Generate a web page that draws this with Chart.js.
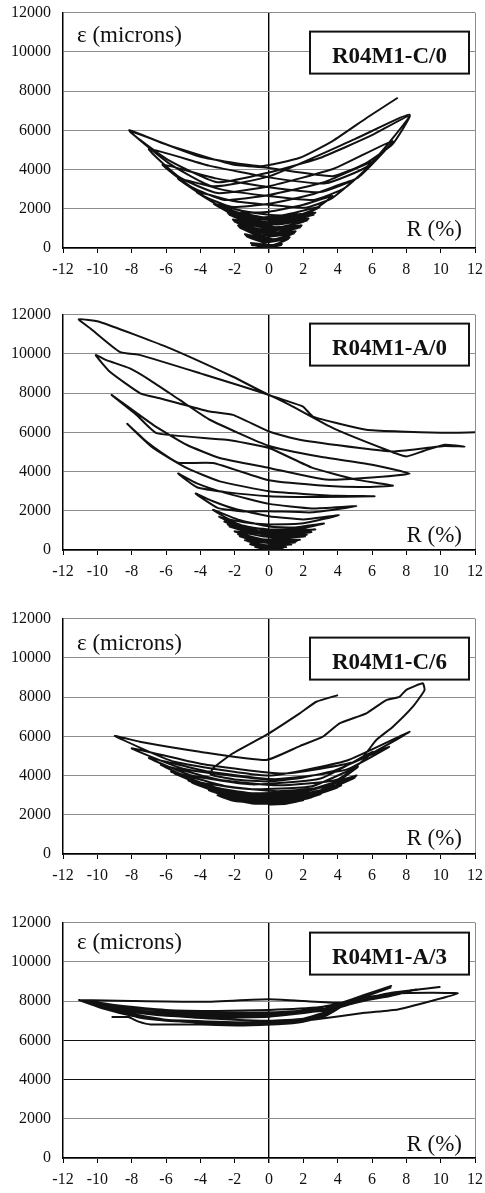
<!DOCTYPE html>
<html>
<head>
<meta charset="utf-8">
<script src="https://cdn.jsdelivr.net/npm/chart.js@4.4.1/dist/chart.umd.min.js"></script>
<style>
  html, body { margin: 0; padding: 0; background: #fff; overflow: hidden; }
  body { position: relative; width: 485px; height: 1193px; }
  .panel { position: absolute; left: 0; width: 490px; height: 289px; }
</style>
</head>
<body>
<div class="panel" style="top:-9px"><canvas id="chartC0" width="490" height="289"></canvas></div>
<div class="panel" style="top:293px"><canvas id="chartA0" width="490" height="289"></canvas></div>
<div class="panel" style="top:597px"><canvas id="chartC6" width="490" height="289"></canvas></div>
<div class="panel" style="top:901px"><canvas id="chartA3" width="490" height="289"></canvas></div>
<script>
// axis ranges (drift ratio R in %, strain in microns)
const rMin = -12, rMax = 12, rStep = 2;
const strainMin = 0, strainMax = 12000, strainStep = 2000;

const panelTitles = ['R04M1-C/0', 'R04M1-A/0', 'R04M1-C/6', 'R04M1-A/3'];

// traces: [R (%), strain (microns)] in load order
const traceC0 = [
  [0,0],[0.7,150],[-0.2,50],[-1.0,150],[0.1,80],[0.75,200],[-0.2,100],[-1.05,250],
  [0.2,150],[1.1,450],[-0.3,280],[-1.3,600],[0.2,350],[1.15,500],[-0.3,350],[-1.35,650],[0.1,400],[1.2,550],[-0.2,420],[-1.4,700],
  [0.3,450],[1.45,750],[-0.4,550],[-1.7,1050],[0.3,650],[1.5,800],[-0.4,650],[-1.75,1100],[0.2,700],[1.55,850],[-0.3,750],[-1.8,1150],
  [0.4,800],[1.8,1050],[-0.5,850],[-2.0,1350],[0.4,950],[1.85,1100],[-0.5,950],[-2.05,1400],[0.3,1000],[1.9,1150],[-0.4,1050],[-2.1,1450],
  [0.5,1050],[2.2,1400],[-0.6,1150],[-2.3,1700],[0.5,1200],[2.25,1450],[-0.6,1250],[-2.35,1750],[0.4,1250],[2.3,1500],[-0.5,1300],[-2.4,1800],
  [0.6,1350],[2.6,1700],[-0.7,1450],[-2.6,1950],[0.5,1450],[2.7,1800],[-0.6,1550],[-2.7,2000],
  [-1.3,1600],[0,1450],[1.3,1500],[2.2,1750],[2.95,2100],
  [1.5,1800],[0,1550],[-1.3,1550],[-2.3,1800],[-3.2,2250],
  [-1.6,1900],[0,1700],[1.6,1650],[2.7,2000],[3.7,2650],
  [2.0,2200],[0,1850],[-1.7,1800],[-3.0,2200],[-4.2,2850],
  [-2.1,2400],[0,2200],[2.1,2050],[3.6,2500],[4.9,3450],
  [2.6,2750],[0,2250],[-2.2,2100],[-3.8,2650],[-5.3,3550],
  [-2.6,2950],[0,2650],[2.6,2450],[4.4,3050],[6.05,4400],
  [3.2,3350],[0,2700],[-2.6,2450],[-4.5,3100],[-6.2,4250],
  [-3.1,3550],[0,3100],[3.0,2850],[5.2,3600],[7.2,5450],
  [3.8,4050],[0,3150],[-3.0,2800],[-5.2,3600],[-7.0,5050],
  [-3.5,4200],[0,3600],[3.3,3300],[5.8,4200],[8.2,6800],
  [5.0,5550],[0,3650],[-3.3,3150],[-5.8,4300],[-8.15,6000],
  [-6.0,5280],[-2.1,4250],[0,4080],[3.7,3660],[5.6,4300],[7.2,5300],[8.2,6750],
  [6.0,5750],[3.0,4600],[0,3850],[-3.0,3350],[-5.8,4450],[-8.1,5950],
  [-4.0,4650],[-0.5,4170],[1.8,4600],[3.7,5450],[5.7,6640],[7.5,7660]
];

const traceA0 = [
  [0,0],[0.8,80],[-0.2,40],[-0.8,150],[0.2,80],[1.0,150],[-0.2,120],[-1.1,300],
  [0.2,180],[1.3,280],[-0.3,250],[-1.4,500],[0.3,320],[1.5,380],[-0.3,380],[-1.7,700],
  [0.2,420],[1.6,450],[-0.3,450],[-1.8,800],
  [0.3,450],[1.8,520],[-0.4,550],[-2.0,950],[0.4,600],[2.1,700],[-0.4,700],[-2.3,1200],
  [0.3,700],[2.2,780],[-0.4,800],[-2.4,1300],
  [0.5,750],[2.47,914],[-0.5,850],[-2.6,1450],[0.5,900],[2.7,1050],[-0.5,950],[-2.9,1700],
  [-1.8,1250],[0,1050],[1.8,1080],[3.2,1350],
  [1.5,1150],[0,1200],[-1.8,1550],[-3.26,2050],
  [-2.3,1560],[-1.0,1360],[0,1305],[2.0,1360],[4.07,1777],
  [2.0,1560],[0,1726],[-2.0,2100],[-3.3,2500],[-4.27,2878],
  [-3.0,2150],[-1.5,1960],[0,1980],[2.5,1920],[5.09,2234],
  [2.5,2120],[0,2352],[-2.5,2900],[-4.2,3400],[-5.3,3900],
  [-4.2,3200],[-2.5,2950],[0,2742],[3.0,2700],[6.15,2741],
  [4.0,2760],[2.0,2860],[0,2996],[-2.87,3500],[-4.8,4183],[-6.75,5198],[-8.26,6432],
  [-7.14,5533],[-5.78,4690],[-5.2,4437],[-3.26,4437],[0,3554],[3.5,3260],[5.5,3210],[7.22,3284],
  [5.0,3600],[2.5,4200],[0,5198],[-2.48,5619],[-6.55,5958],[-7.72,6888],[-9.17,7904],
  [-6.75,6381],[-4.8,5365],[-2.87,4690],[0,4183],[3.3,3589],[6.0,3700],[8.19,3893],
  [6.0,4350],[3.0,4750],[0,5300],[-3.45,6640],[-5.2,7650],[-6.94,8663],[-8.1,9258],[-9.47,9680],[-10.09,9934],
  [-9.27,9086],[-7.5,7990],[-6.36,7736],[-3.45,7056],[-2.1,6888],[0,6041],[1.79,5619],[5.28,5198],[7.22,5027],[9.16,5198],[10.23,5300],[11.39,5279],
  [10.23,5365],[9.0,5050],[8.0,4772],[6.83,5112],[3.73,6213],[1.2,7400],[0,7904],[-4.0,9005],[-7.5,9934],[-8.7,10101],[-10.4,11289],[-11.08,11762],
  [-9.85,11625],[-5.97,10355],[-2.1,8832],[0,7904],[1.98,7310],[2.56,6802],[5.67,6127],[7.6,6041],[10.0,5980],[12,6000]
];

const traceC6 = [
  [0,2520],[1.0,2560],[2.0,2750],[0.5,2600],[-1,2580],[-2.5,2850],
  [-1,2620],[0.5,2560],[1.5,2680],[2.5,2900],[1.0,2650],[-0.5,2600],[-2.0,2700],[-3.0,3000],
  [-1.5,2750],[0.5,2650],[2,2800],[3.0,3050],[1.0,2750],[-1,2700],[-2.5,2950],[-3.5,3250],
  [-1.5,2850],[0.5,2750],[2.5,2950],[4.0,3400],[1.5,2900],[-1,2850],[-3,3150],[-4.5,3650],
  [-2,3000],[0.5,2850],[2.5,3000],[4.2,3500],[1.5,2950],[-1,2900],[-3,3200],[-4.7,3750],
  [-2,3050],[0.5,2900],[3,3150],[5.0,3900],[2,3150],[-1,3050],[-3.5,3400],[-5.5,4100],
  [-2.2,3150],[0.5,3000],[3,3200],[5.1,4000],[2,3200],[-1,3100],[-3.5,3450],[-5.7,4200],
  [-2.5,3450],[0.5,3200],[3.5,3450],[5.18,4454],[2.5,3450],[-1,3300],[-4,3650],[-6.3,4550],
  [-3,3800],[0.5,3500],[4,3800],[6.05,5217],[3,3850],[-1,3550],[-4.5,4000],[-7.0,4900],
  [-3.5,4200],[0.5,3800],[4.5,4300],[7.0,5470],[3.5,4150],[0,3800],[-5,4350],[-8.0,5390],
  [-4,4600],[0.8,4100],[5,4700],[8.19,6234],[4.5,4750],[0,4000],[-5.5,4700],[-8.98,6015],
  [-7.53,5725],[-4.03,5217],[-0.15,4795],[1.79,5500],[3.14,5980],[4.11,6658],[5.67,7170],[6.83,7846],[7.6,8015],[8.0,8370],[8.96,8700],
  [9.06,8354],[8.38,7508],[7.22,6490],[6.25,5811],[5.47,4963],[4.0,4300],[2.0,3900],[0,3700],[-2.0,3800],[-3.4,4050],
  [-3.26,4373],[-2.1,5136],[0,6153],[1.79,7169],[2.76,7760],[4.02,8100]
];

const traceA3 = [
  [-9.17,7184],[-8.2,7184],[-7.6,6950],[-6.9,6810],[-4,6800],[-1.5,6760],[0.5,6820],[2,6950],[3.3,7250],[4.2,7700],[5.5,8250],[7.12,8767],
  [5.5,8300],[4.2,7900],[3,7550],[0,7300],[-3,7250],[-6,7350],[-8,7500],[-9.5,7750],[-11.06,8053],
  [-9.6,7600],[-8,7250],[-6,7000],[-3,6900],[0,6950],[2,7050],[3.3,7350],[4.2,7750],[5.5,8200],[7.12,8700],
  [5.5,8200],[4.2,7850],[3,7500],[0,7200],[-3,7150],[-6,7250],[-8,7450],[-9.7,7800],[-11.06,8053],
  [-9.5,7700],[-8,7350],[-6,7050],[-3,6950],[0,6900],[2,7000],[3.5,7400],[4.5,7850],[6.5,8250],[8.58,8596],
  [7,8250],[5,7950],[3.5,7650],[1,7450],[-2,7400],[-5,7450],[-8,7650],[-9.8,7850],[-11.06,8053],
  [-9.5,7600],[-7,7100],[-4,6900],[-1,6850],[1,6900],[3,7200],[4.3,7750],[6.5,8300],[8.58,8596],
  [7,8300],[5,7900],[3.5,7550],[1,7350],[-2,7300],[-5,7350],[-8,7550],[-9.8,7800],[-11.06,8053],
  [-9.7,7800],[-8,7550],[-5,7200],[-2,7050],[0,7000],[2,7100],[3.5,7500],[4.5,7900],[7,8400],[9.94,8715],
  [8,8500],[6.5,8250],[4.5,7950],[3,7700],[0,7550],[-3,7500],[-6,7550],[-9,7800],[-11.06,8053],
  [-9.5,7650],[-7.5,7150],[-5,6950],[-2,6850],[0,6850],[2.66,7063],[5.57,7400],[7.51,7575],[9.45,8000],[11.0,8391],
  [9.5,8420],[7.51,8394],[5.57,8170],[4.2,7915],[2,8000],[0,8090],[-4,7960],[-8,8000],[-11.06,8053]
];

const panels = [
  { id: 'chartC0', trace: traceC0, title: panelTitles[0], eps: true, epsY: 29, boxY: 19, rY: 11.7, dark: [] },
  { id: 'chartA0', trace: traceA0, title: panelTitles[1], eps: false, epsY: 0, boxY: 9, rY: 8, dark: [] },
  { id: 'chartC6', trace: traceC6, title: panelTitles[2], eps: true, epsY: 31, boxY: 19, rY: 9.3, dark: [] },
  { id: 'chartA3', trace: traceA3, title: panelTitles[3], eps: true, epsY: 26, boxY: 10, rY: 6.7, dark: [4000, 6000] }
];

const SERIF = '"Liberation Serif", "Times New Roman", serif';
const GRID_GRAY = '#8c8c8c';

// text and boxed label drawn inside each plot
const panelText = {
  id: 'panelText',
  afterDraw(chart, args, opts) {
    const { ctx, chartArea: a } = chart;
    ctx.save();
    ctx.fillStyle = '#111';
    ctx.textBaseline = 'alphabetic';
    if (opts.eps) {
      ctx.font = '23px ' + SERIF;
      ctx.textAlign = 'left';
      ctx.fillText('ε (microns)', a.left + 14, a.top + opts.epsY);
    }
    ctx.font = '23px ' + SERIF;
    ctx.textAlign = 'right';
    ctx.fillText('R (%)', a.right - 13, a.bottom - opts.rY);

    const bw = 159, bh = 42, bx = a.right - 165, by = a.top + opts.boxY;
    ctx.fillStyle = '#fff';
    ctx.fillRect(bx, by, bw, bh);
    ctx.lineWidth = 2;
    ctx.strokeStyle = '#111';
    ctx.strokeRect(bx, by, bw, bh);
    ctx.fillStyle = '#111';
    ctx.font = 'bold 23px ' + SERIF;
    ctx.textAlign = 'center';
    ctx.fillText(opts.title, bx + bw / 2, by + 31);
    ctx.restore();
  }
};

function renderPanel(p) {
  const ctx = document.getElementById(p.id).getContext('2d');
  new Chart(ctx, {
    type: 'scatter',
    data: {
      datasets: [{
        data: p.trace.map(([r, e]) => ({ x: r, y: e })),
        showLine: true,
        borderColor: '#111',
        borderWidth: 2,
        pointRadius: 0,
        tension: 0.15,
        fill: false
      }]
    },
    options: {
      responsive: false,
      animation: false,
      events: [],
      layout: { padding: { top: 3, right: 5, left: 0, bottom: 0 } },
      plugins: {
        legend: { display: false },
        tooltip: { enabled: false },
        panelText: { eps: p.eps, epsY: p.epsY, boxY: p.boxY, rY: p.rY, title: p.title }
      },
      scales: {
        x: {
          type: 'linear',
          min: rMin,
          max: rMax,
          afterFit: (s) => { s.height = 32; },
          border: { color: '#000', width: 1.5 },
          grid: {
            color: (c) => c.tick.value === 0 ? '#000' : (c.tick.value === rMax ? GRID_GRAY : 'rgba(0,0,0,0)'),
            lineWidth: (c) => c.tick.value === 0 ? 1.4 : 1,
            tickColor: '#000',
            tickLength: 5,
            drawTicks: true
          },
          ticks: {
            stepSize: rStep,
            padding: 7,
            color: '#111',
            font: { family: SERIF, size: 16 },
            maxRotation: 0,
            callback: (v) => String(v)
          }
        },
        y: {
          type: 'linear',
          min: strainMin,
          max: strainMax,
          afterFit: (s) => { s.width = 63; },
          border: { color: '#000', width: 1.5 },
          grid: {
            color: (c) => p.dark.includes(c.tick.value) ? '#111' : GRID_GRAY,
            lineWidth: 1,
            drawTicks: false
          },
          ticks: {
            stepSize: strainStep,
            padding: 12,
            color: '#111',
            font: { family: SERIF, size: 16 },
            callback: (v) => String(v)
          }
        }
      }
    },
    plugins: [panelText]
  });
}

panels.forEach(renderPanel);
</script>
</body>
</html>
